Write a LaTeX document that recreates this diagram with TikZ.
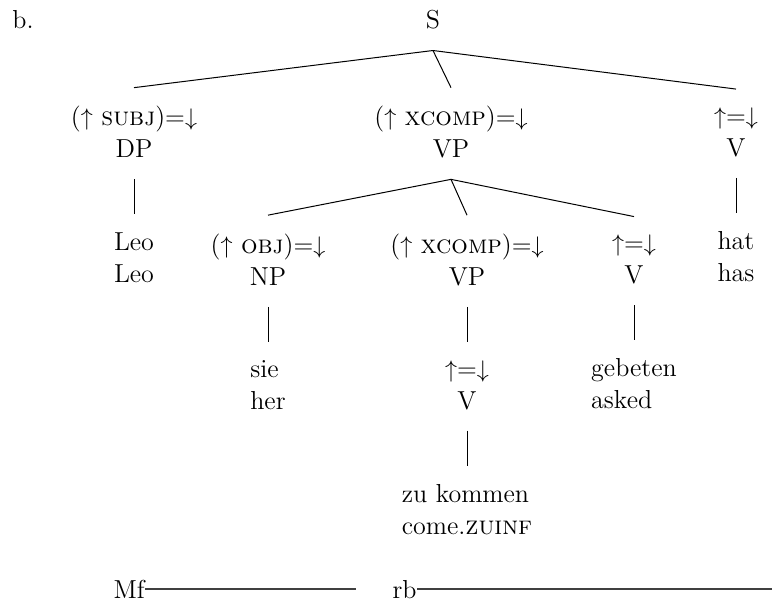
\documentclass[tikz,border=0pt]{standalone}
\usetikzlibrary{positioning}

\newcommand\lfgstrut{\rule[-1.6pt]{0pt}{12pt}}

\begin{document}
\begin{tikzpicture}[x=0.5pt, y=-0.5pt, node distance=17.5pt, line width=0.5pt,
    every node/.style={font=\fontsize{13}{16}\selectfont},
    cat/.style={align=center, inner xsep=0pt, inner ysep=9pt,
      execute at begin node=\lfgstrut, execute at end node=\lfgstrut},
    word/.style={cat, align=left},
    tier/.style={line width=1pt, black!75}]
    \useasboundingbox (0,0) rectangle (772,601);

    \node (ex) at (23,20) {b.};
    \node[cat] (S) at (433,20) {S};

    % first level under S
    \node[cat] (subj) at (134,133.5) {($\uparrow$ \textsc{subj})=$\downarrow$\\DP};
    \node[cat] (xcomp) at (451,133.5) {($\uparrow$ \textsc{xcomp})=$\downarrow$\\VP};
    \node[cat] (aux) at (736,133.5) {$\uparrow$=$\downarrow$\\V};
    \node[word, below=of subj] (leo) {Leo\\Leo};
    \node[word, below=of aux] (hat) {hat\\has};

    % inside the VP
    \node[cat] (obj) at (268,261) {($\uparrow$ \textsc{obj})=$\downarrow$\\NP};
    \node[cat] (xcomp2) at (467,261) {($\uparrow$ \textsc{xcomp})=$\downarrow$\\VP};
    \node[cat] (verb) at (634,261) {$\uparrow$=$\downarrow$\\V};
    \node[word, below=of obj] (sie) {sie\\her};
    \node[cat, below=of xcomp2] (inf) {$\uparrow$=$\downarrow$\\V};
    \node[word, below=of verb] (gebeten) {gebeten\\asked};
    \node[word, below=of inf] (kommen) {zu kommen\\come.\textsc{zuinf}};

    \draw (S.south) -- (subj.north);
    \draw (S.south) -- (xcomp.north);
    \draw (S.south) -- (aux.north);
    \draw (subj) -- (leo);
    \draw (aux) -- (hat);
    \draw (xcomp.south) -- (obj.north);
    \draw (xcomp.south) -- (xcomp2.north);
    \draw (xcomp.south) -- (verb.north);
    \draw (obj) -- (sie);
    \draw (xcomp2) -- (inf);
    \draw (verb) -- (gebeten);
    \draw (inf) -- (kommen);

    % prosodic tiers
    \node[anchor=base west, inner sep=0pt] (mf) at (113,598) {Mf};
    \node[anchor=base west, inner sep=0pt] (rb) at (392,598) {rb};
    \coordinate (mfend) at (356,590);
    \coordinate (rbend) at (772,590);
    \draw[tier] (mf.east) -- (mf.east -| mfend);
    \draw[tier] (rb.east) -- (rb.east -| rbend);
\end{tikzpicture}
\end{document}
